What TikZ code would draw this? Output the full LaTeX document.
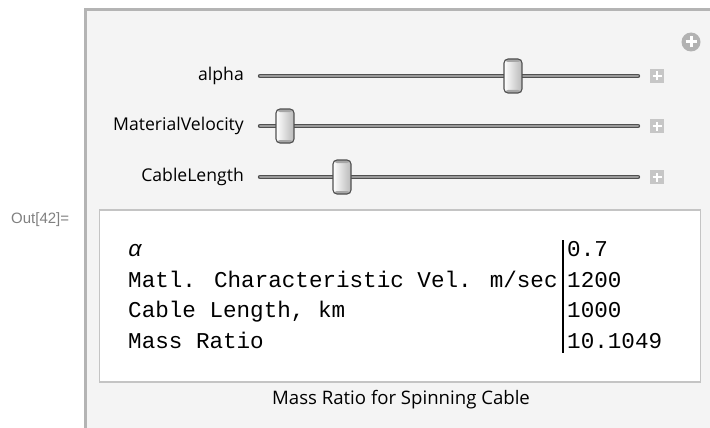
\documentclass[tikz,border=0pt]{standalone}
\usepackage{fontspec}
\setmainfont{Open Sans}
\newfontfamily\tabfont{Liberation Mono}
\newfontfamily\outfont{Liberation Sans}
\definecolor{panelbg}{HTML}{F4F4F4}
\definecolor{frame}{HTML}{B4B4B4}
\definecolor{boxline}{HTML}{C4C4C4}
\definecolor{plusgray}{HTML}{C6C6C6}
\definecolor{circgray}{HTML}{B2B2B2}
\definecolor{trackdark}{HTML}{505050}
\definecolor{trackmid}{HTML}{9A9A9A}
\tikzset{
  sliderlabel/.style={anchor=east, inner sep=0pt, font=\fontsize{17.6}{20}\selectfont, text=black},
  trackline/.style={line width=4.4pt, draw=trackdark, line cap=round},
  trackinner/.style={line width=2pt, draw=trackmid, line cap=round},
  thumbbox/.style={draw=trackdark, line width=1.1pt, rounded corners=4pt, minimum width=18pt, minimum height=34pt, inner sep=0pt, left color=white, right color=gray!55,
    path picture={\fill[gray!70] (path picture bounding box.north west) rectangle ([yshift=-3pt]path picture bounding box.north east);
                  \fill[gray!70] (path picture bounding box.south west) rectangle ([yshift=3pt]path picture bounding box.south east);}},
  plusbox/.style={fill=plusgray, minimum size=14pt, inner sep=0pt,
    path picture={\draw[white, line width=2pt] ([xshift=-4.5pt]path picture bounding box.center) -- ([xshift=4.5pt]path picture bounding box.center);
                  \draw[white, line width=2pt] ([yshift=-4.5pt]path picture bounding box.center) -- ([yshift=4.5pt]path picture bounding box.center);}},
  tabtext/.style={anchor=base west, inner sep=0pt, font=\tabfont\fontsize{22.6}{26}\selectfont},
}
\begin{document}
\begin{tikzpicture}[x=1pt, y=-1pt]
\useasboundingbox (0,0) rectangle (710,428);
% panel
\fill[panelbg] (85.5,10) rectangle (710,428);
\draw[frame, line width=3pt] (85.5,428) -- (85.5,10) -- (710,10);
% circle plus
\node[circle, fill=circgray, minimum size=19pt, inner sep=0pt,
  path picture={\draw[white, line width=3pt] ([xshift=-5.5pt]path picture bounding box.center) -- ([xshift=5.5pt]path picture bounding box.center);
                \draw[white, line width=3pt] ([yshift=-5.5pt]path picture bounding box.center) -- ([yshift=5.5pt]path picture bounding box.center);}]
  (addbtn) at (691,42) {};
% sliders
\foreach \nm/\lab/\yy/\tx in {sa/alpha/76/513, sb/MaterialVelocity/126/285, sc/CableLength/177/342}{
  \node[sliderlabel] (\nm lab) at (244,\yy) {\lab};
  \coordinate (\nm L) at (260,\yy);
  \coordinate (\nm R) at (638,\yy);
  \draw[trackline] (\nm L) -- (\nm R);
  \draw[trackinner] (\nm L) -- (\nm R);
  \node[thumbbox] (\nm thumb) at (\tx,\yy) {};
  \node[plusbox] (\nm plus) at (657,\yy) {};
}
% Out label
\node[anchor=west, inner sep=0pt, text=gray, font=\outfont\fontsize{15}{18}\selectfont] (outlab) at (11,220) {Out[42]=};
% inner box
\node[draw=boxline, line width=1.6pt, fill=white, minimum width=601pt, minimum height=172pt, inner sep=0pt] (grid) at (400,296) {};
% table
\node[tabtext] (r1a) at (128,256.5) {\itshape α};
\node[tabtext] (r2a) at (128,287) {Matl. Characteristic Vel. m/sec};
\node[tabtext] (r3a) at (128,317.5) {Cable Length, km};
\node[tabtext] (r4a) at (128,348) {Mass Ratio};
\node[tabtext] (r1b) at (567,256.5) {0.7};
\node[tabtext] (r2b) at (567,287) {1200};
\node[tabtext] (r3b) at (567,317.5) {1000};
\node[tabtext] (r4b) at (567,348) {10.1049};
\coordinate (bartop) at (563,240);
\coordinate (barbot) at (563,353);
\draw[black, line width=1.8pt] (bartop) -- (barbot);
% caption
\node[inner sep=0pt, font=\fontsize{18.6}{21}\selectfont] (caption) at (401,400) {Mass Ratio for Spinning Cable};
\end{tikzpicture}
\end{document}
